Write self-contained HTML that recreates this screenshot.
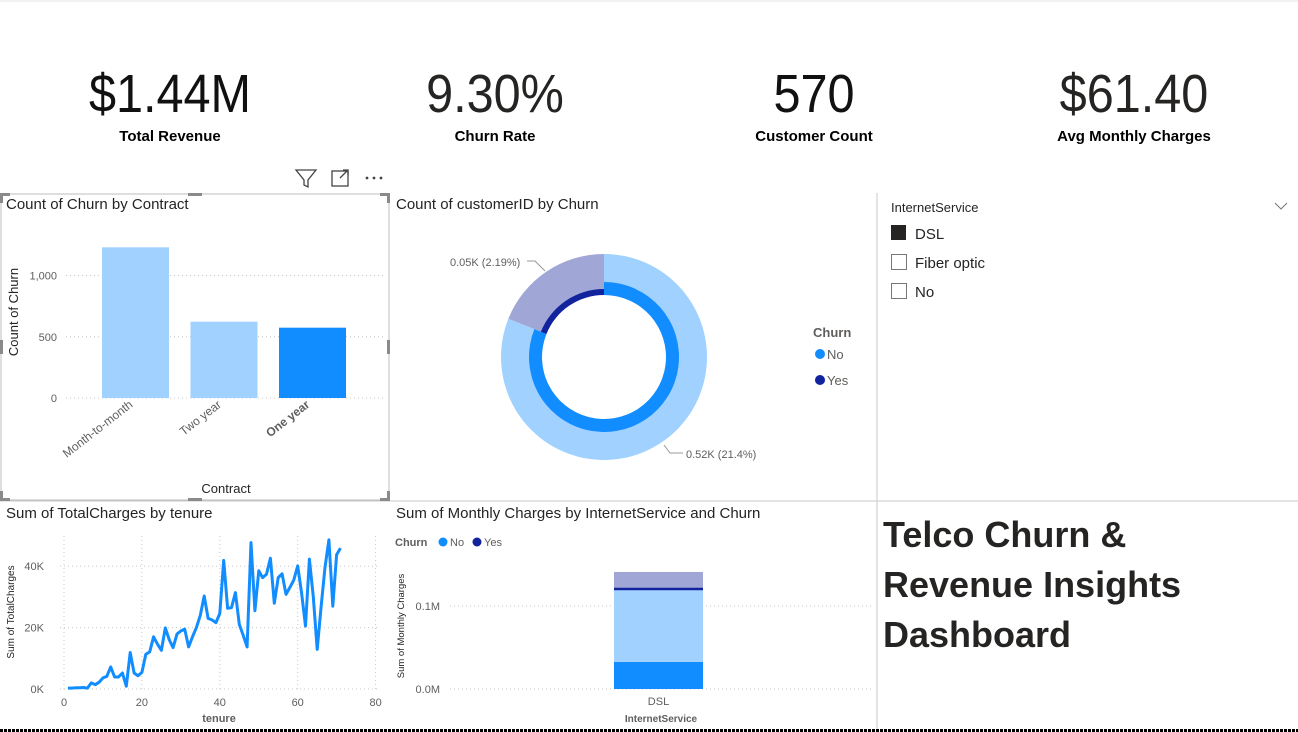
<!DOCTYPE html>
<html><head><meta charset="utf-8">
<style>
body{margin:0;width:1298px;height:732px;overflow:hidden;background:#fff;font-family:"Liberation Sans",sans-serif;}
svg{display:block}
text{font-family:"Liberation Sans",sans-serif}
</style></head>
<body>
<svg id="s" width="1298" height="732">
  <line x1="0" y1="1" x2="1298" y2="1" stroke="#e6e6e6"/>
  <g>
    <text x="170" y="112" font-size="54" text-anchor="middle" fill="#111" transform="translate(170 0) scale(0.9 1) translate(-170 0)">$1.44M</text>
    <text x="170" y="141" font-size="15" font-weight="bold" text-anchor="middle" fill="#000">Total Revenue</text>
  </g>
  <g>
    <text x="495" y="112" font-size="54" text-anchor="middle" fill="#252423" transform="translate(495 0) scale(0.9 1) translate(-495 0)">9.30%</text>
    <text x="495" y="141" font-size="15" font-weight="bold" text-anchor="middle" fill="#000">Churn Rate</text>
  </g>
  <g>
    <text x="814" y="112" font-size="54" text-anchor="middle" fill="#111" transform="translate(814 0) scale(0.9 1) translate(-814 0)">570</text>
    <text x="814" y="141" font-size="15" font-weight="bold" text-anchor="middle" fill="#000">Customer Count</text>
  </g>
  <g>
    <text x="1134" y="112" font-size="54" text-anchor="middle" fill="#252423" transform="translate(1134 0) scale(0.9 1) translate(-1134 0)">$61.40</text>
    <text x="1134" y="141" font-size="15" font-weight="bold" text-anchor="middle" fill="#000">Avg Monthly Charges</text>
  </g>

  <g><path d="M296 170 L316 170 L308 180 L308 187 L304 185 L304 180 Z" fill="none" stroke="#444" stroke-width="1.3"/></g>
  <g><rect x="332" y="171" width="16" height="15" fill="none" stroke="#444" stroke-width="1.3"/><path d="M340 178 L348 170 M343 170 L348 170 L348 175" fill="none" stroke="#444" stroke-width="1.3"/></g>
  <g><circle cx="367" cy="178" r="1.4" fill="#444"/><circle cx="374" cy="178" r="1.4" fill="#444"/><circle cx="381" cy="178" r="1.4" fill="#444"/></g>

  <line x1="0" y1="501" x2="1298" y2="501" stroke="#c8c8c8"/>
  <line x1="877" y1="193" x2="877" y2="730" stroke="#c8c8c8"/>
  <line x1="0" y1="730.5" x2="1298" y2="730.5" stroke="#000" stroke-width="3" stroke-dasharray="3 1"/>

  <rect x="1" y="194" width="388" height="306" fill="none" stroke="#bdbdbd"/>
  <g fill="#8a8a8a">
    <rect x="0" y="193" width="10" height="3"/><rect x="0" y="193" width="3" height="10"/>
    <rect x="380" y="193" width="10" height="3"/><rect x="387" y="193" width="3" height="10"/>
    <rect x="0" y="498" width="10" height="3"/><rect x="0" y="491" width="3" height="10"/>
    <rect x="380" y="498" width="10" height="3"/><rect x="387" y="491" width="3" height="10"/>
    <rect x="188" y="193" width="14" height="3"/><rect x="188" y="498" width="14" height="3"/>
    <rect x="0" y="340" width="3" height="14"/><rect x="387" y="340" width="3" height="14"/>
  </g>
  <text x="6" y="209" font-size="15" fill="#252423">Count of Churn by Contract</text>
  <g id="barChart"></g>
  <text x="226" y="493" font-size="13" fill="#252423" text-anchor="middle">Contract</text>
  <text transform="translate(18 312) rotate(-90)" font-size="13" fill="#252423" text-anchor="middle">Count of Churn</text>

  <text x="396" y="209" font-size="15" fill="#252423">Count of customerID by Churn</text>
  <g id="donut"></g>
  <path d="M527 261 L535 261 L545 271" fill="none" stroke="#999"/>
  <text x="450" y="266" font-size="11" fill="#605e5c">0.05K (2.19%)</text>
  <path d="M664 445 L670 453 L683 453" fill="none" stroke="#999"/>
  <text x="686" y="458" font-size="11" fill="#605e5c">0.52K (21.4%)</text>
  <g>
    <text x="813" y="337" font-size="13" font-weight="bold" fill="#605e5c">Churn</text>
    <g><circle cx="820" cy="354" r="5" fill="#118dff"/><text x="827" y="359" font-size="13" fill="#605e5c">No</text></g>
    <g><circle cx="820" cy="380" r="5" fill="#12239e"/><text x="827" y="385" font-size="13" fill="#605e5c">Yes</text></g>
  </g>

  <g>
    <text x="891" y="212" font-size="13" fill="#252423">InternetService</text>
    <path d="M1275 203 L1281 209 L1287 203" fill="none" stroke="#777"/>
    <g><rect x="891" y="225" width="15" height="15" fill="#252423"/><text x="915" y="239" font-size="15" fill="#252423">DSL</text></g>
    <g><rect x="891.5" y="254.5" width="15" height="15" fill="#fff" stroke="#777"/><text x="915" y="268" font-size="15" fill="#252423">Fiber optic</text></g>
    <g><rect x="891.5" y="283.5" width="15" height="15" fill="#fff" stroke="#777"/><text x="915" y="297" font-size="15" fill="#252423">No</text></g>
  </g>

  <text x="6" y="518" font-size="15" fill="#252423">Sum of TotalCharges by tenure</text>
  <g id="lineChart"></g>
  <text x="219" y="722" font-size="11" font-weight="bold" fill="#605e5c" text-anchor="middle">tenure</text>
  <text transform="translate(14 612) rotate(-90)" font-size="10" fill="#252423" text-anchor="middle">Sum of TotalCharges</text>

  <text x="396" y="518" font-size="15" fill="#252423">Sum of Monthly Charges by InternetService and Churn</text>
  <g>
    <text x="395" y="546" font-size="11" font-weight="bold" fill="#605e5c">Churn</text>
    <g><circle cx="443" cy="542" r="4.5" fill="#118dff"/><text x="450" y="546" font-size="11" fill="#605e5c">No</text></g>
    <g><circle cx="477" cy="542" r="4.5" fill="#12239e"/><text x="484" y="546" font-size="11" fill="#605e5c">Yes</text></g>
  </g>
  <g id="stackChart"></g>
  <text x="661" y="722" font-size="10" font-weight="bold" fill="#605e5c" text-anchor="middle">InternetService</text>
  <text transform="translate(404 626) rotate(-90)" font-size="9.5" fill="#252423" text-anchor="middle">Sum of Monthly Charges</text>

  <g font-size="36" font-weight="bold" fill="#252423">
    <text x="883" y="547">Telco Churn &amp;</text>
    <text x="883" y="597">Revenue Insights</text>
    <text x="883" y="647">Dashboard</text>
  </g>
</svg>
<script>
const NS="http://www.w3.org/2000/svg";
function mk(parent,tag,attrs){const e=document.createElementNS(NS,tag);for(const k in attrs)e.setAttribute(k,attrs[k]);parent.appendChild(e);return e;}

const contractCats=["Month-to-month","Two year","One year"];
const contractCounts=[1230,623,574];
const contractTicks=[0,500,1000];
const contractTickLabels=["0","500","1,000"];
(function(){
  const g=document.getElementById('barChart');
  const y0=398, k=0.1225, left=58, right=385, x0=92, step=88.5, bw=67;
  const y=v=>y0-v*k;
  contractTicks.forEach((t,i)=>{
    const ln=mk(g,'line',{x1:66,x2:right,y1:y(t),y2:y(t),stroke:'#c8c8c8','stroke-dasharray':'1 3'});
    
    
    const tx=mk(g,'text',{x:left-1,y:y(t)+4,'font-size':11,fill:'#605e5c','text-anchor':'end'});
    tx.textContent=contractTickLabels[i];
    
    
  });
  contractCats.forEach((c,i)=>{
    const bx=x0+10+i*step;
    const r=mk(g,'rect',{x:bx,y:y(contractCounts[i]),width:bw,height:contractCounts[i]*k,fill:i===2?'#118dff':'#a0d1ff'});
    
    
    const cx=bx+bw/2-2;
    const t=mk(g,'text',{x:cx,y:406,'font-size':12,fill:'#605e5c','text-anchor':'end',transform:`rotate(-38 ${cx} 406)`,'font-weight':i===2?'bold':'normal'});
    t.textContent=c;
    
    
  });
})();

const churnCats=["No","Yes"];
const churnTotals=[462,108];
const churnHighlighted=[462,108];
(function(){
  const g=document.getElementById('donut');
  const cx=604, cy=357;
  const total=churnTotals.reduce((a,b)=>a+b,0);
  function arc(a0,a1,r0,r1,fill,name){
    const p=(a,r)=>[cx+r*Math.sin(a),cy-r*Math.cos(a)];
    const large=(a1-a0)>Math.PI?1:0;
    const [x1,y1]=p(a0,r1),[x2,y2]=p(a1,r1),[x3,y3]=p(a1,r0),[x4,y4]=p(a0,r0);
    const e=mk(g,'path',{d:`M${x1} ${y1} A${r1} ${r1} 0 ${large} 1 ${x2} ${y2} L${x3} ${y3} A${r0} ${r0} 0 ${large} 0 ${x4} ${y4} Z`,fill:fill});
    
    
  }
  let a=0;
  const fullCols=['#a0d1ff','#a0a7d6'], hiCols=['#118dff','#12239e'];
  churnTotals.forEach((v,i)=>{
    const a1=a+v/total*2*Math.PI;
    arc(a,a1,62,103,fullCols[i],'donut-slice-'+churnCats[i].toLowerCase());
    a=a1;
  });
  const inner=mk(g,'circle',{cx:cx,cy:cy,r:62,fill:'#fff'});
  
  
  a=0;
  churnHighlighted.forEach((v,i)=>{
    const a1=a+v/total*2*Math.PI;
    arc(a,a1,62,i===1?68:75,hiCols[i],'donut-highlight-'+churnCats[i].toLowerCase());
    a=a1;
  });
})();

const tenureValues=[1,2,3,4,5,6,7,8,9,10,11,12,13,14,15,16,17,18,19,20,21,22,23,24,25,26,27,28,29,30,31,32,33,34,35,36,37,38,39,40,41,42,43,44,45,46,47,48,49,50,51,52,53,54,55,56,57,58,59,60,61,62,63,64,65,66,67,68,69,70,71];
const totalChargesK=[0.3,0.3,0.4,0.4,0.5,0.3,2,1.4,2.2,3.6,4.1,7.2,3.9,3.9,5.2,0.9,11.9,5.2,4.3,5.4,11.3,12.1,17,14.6,12.6,19.9,16.1,13.5,17.9,18.9,19.5,13.7,17,20,24,30.3,23,22.5,21.6,24.6,41.9,26.3,26.5,31.4,21,17.5,13.7,47.7,25.5,38.5,36.3,37.4,42.6,27.9,36.3,37.5,30.8,33.1,35.5,40.1,31.2,20.5,42.3,30,12.9,26.8,39.6,48.6,27,43.7,45.9];
const tenureTicks=[0,20,40,60,80];
const chargeTicksK=[0,20,40];
const chargeTickLabels=["0K","20K","40K"];
(function(){
  const g=document.getElementById('lineChart');
  const X=t=>64+t*3.895, Y=v=>689-v*3.07;
  chargeTicksK.forEach((t,i)=>{
    const l=mk(g,'line',{x1:60,x2:378,y1:Y(t),y2:Y(t),stroke:'#c8c8c8','stroke-dasharray':'1 3'});
    
    
    const tx=mk(g,'text',{x:44,y:Y(t)+4,'font-size':11,fill:'#605e5c','text-anchor':'end'});
    tx.textContent=chargeTickLabels[i];
    
    
  });
  tenureTicks.forEach(t=>{
    const l=mk(g,'line',{x1:X(t),x2:X(t),y1:536,y2:689,stroke:'#c8c8c8','stroke-dasharray':'1 3'});
    
    
    const tx=mk(g,'text',{x:X(t),y:706,'font-size':11,fill:'#605e5c','text-anchor':'middle'});
    tx.textContent=t;
    
    
  });
  const d=tenureValues.map((t,i)=>(i?'L':'M')+X(t).toFixed(1)+' '+Y(totalChargesK[i]).toFixed(1)).join(' ');
  const p=mk(g,'path',{d:d,fill:'none',stroke:'#118dff','stroke-width':3,'stroke-linejoin':'round'});
  
  
})();

const serviceCats=["DSL"];
const monthlyNoFull=[0.119];
const monthlyNoHighlighted=[0.0325];
const monthlyYesFull=[0.022];
const monthlyYesHighlighted=[0.003];
const monthlyTicks=[0,0.1];
const monthlyTickLabels=["0.0M","0.1M"];
(function(){
  const g=document.getElementById('stackChart');
  const Y=v=>689-v*830;
  monthlyTicks.forEach((t,i)=>{
    const l=mk(g,'line',{x1:450,x2:872,y1:Y(t),y2:Y(t),stroke:'#c8c8c8','stroke-dasharray':'1 3'});
    
    
    const tx=mk(g,'text',{x:440,y:Y(t)+4,'font-size':11,fill:'#605e5c','text-anchor':'end'});
    tx.textContent=monthlyTickLabels[i];
    
    
  });
  serviceCats.forEach((c,i)=>{
    const x=614,w=89;
    const noTop=monthlyNoFull[i];
    const r1=mk(g,'rect',{x:x,y:Y(noTop),width:w,height:noTop*830,fill:'#a0d1ff'});
    
    
    const r2=mk(g,'rect',{x:x,y:Y(monthlyNoHighlighted[i]),width:w,height:monthlyNoHighlighted[i]*830,fill:'#118dff'});
    
    
    const r3=mk(g,'rect',{x:x,y:Y(noTop+monthlyYesFull[i]),width:w,height:monthlyYesFull[i]*830,fill:'#a0a7d6'});
    
    
    const r4=mk(g,'rect',{x:x,y:Y(noTop+monthlyYesHighlighted[i]),width:w,height:monthlyYesHighlighted[i]*830,fill:'#12239e'});
    
    
    const tx=mk(g,'text',{x:x+w/2,y:705,'font-size':11,fill:'#605e5c','text-anchor':'middle'});
    tx.textContent=c;
    
    
  });
})();
</script>
</body></html>
